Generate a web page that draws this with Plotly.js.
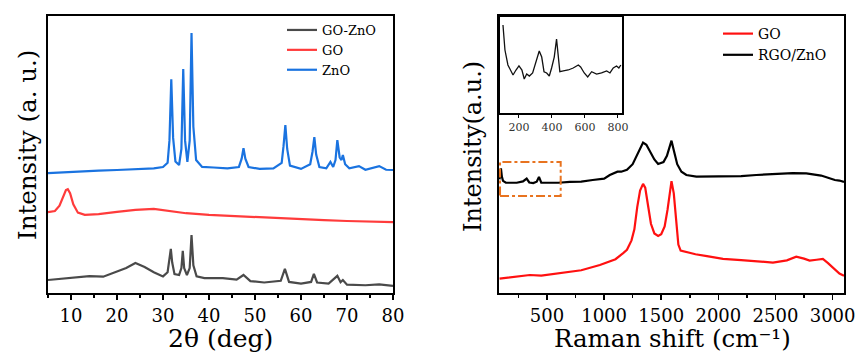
<!DOCTYPE html>
<html>
<head>
<meta charset="utf-8">
<script src="https://cdn.plot.ly/plotly-3.0.1.min.js"></script>
<style>html,body{margin:0;padding:0;background:#fff;}#chart{width:857px;height:355px;}</style>
</head>
<body>
<div id="chart"></div>
<script>
// ---------- XRD (left panel) ----------
const xrdZnO_x = [5, 8, 12, 16, 20, 24, 28, 30, 31.0, 31.4, 31.8, 32.2, 32.7, 33.5, 34.0, 34.4, 34.8, 35.3, 35.8, 36.2, 36.6, 37.2, 38.5, 41, 44, 46.5, 47.1, 47.5, 47.9, 48.6, 51, 54, 55.8, 56.2, 56.6, 57.0, 57.6, 60, 62.0, 62.5, 62.9, 63.3, 64, 65.5, 66.4, 67.0, 67.5, 67.9, 68.4, 68.8, 69.1, 69.6, 70.5, 72.6, 74, 77, 78.5, 80];
const xrdZnO_y = [43.3, 43.6, 43.8, 44.2, 44.4, 44.6, 45.0, 45.5, 47, 55, 77.2, 56, 47.5, 46.2, 52, 80.9, 55, 47.3, 55, 93.9, 60, 48, 45.5, 45.3, 45, 45.5, 48.5, 52.3, 48.5, 45.5, 44.8, 45, 47, 53, 60.6, 52, 46, 44.8, 46.5, 51, 56.3, 50, 45.5, 45, 47.3, 45.5, 48, 55.2, 49, 48, 49.8, 46.5, 45, 45.8, 44.5, 45.8, 44.5, 44.4];

const xrdGO_x = [5, 6.5, 7.5, 8.3, 8.9, 9.3, 9.8, 10.5, 11.5, 13, 16, 20, 24, 28, 31, 35, 40, 45, 50, 55, 60, 65, 70, 75, 80];
const xrdGO_y = [29.2, 29.6, 31.5, 35, 37.2, 37.5, 36, 32, 29, 28.2, 28.5, 29.3, 30, 30.4, 29.8, 28.8, 28.2, 27.8, 27.3, 27.0, 26.7, 26.3, 26.0, 25.8, 25.6];

const xrdGOZnO_x = [5, 8, 11, 14, 17, 20, 22, 24, 26, 28, 30, 31.0, 31.4, 31.7, 32.0, 32.5, 33.5, 34.0, 34.3, 34.6, 35.2, 35.8, 36.2, 36.6, 37.3, 39, 43, 46, 47.5, 49, 52, 55.6, 56.5, 57.4, 60, 62.2, 62.8, 63.5, 66, 67.9, 68.6, 69.1, 70, 74, 77, 80];
const xrdGOZnO_y = [4.7, 5.2, 5.5, 6.1, 5.9, 7.7, 9.0, 10.8, 9.4, 7.5, 6.0, 7.5, 12, 15.9, 11, 6.8, 6.5, 9, 15.2, 9, 6.5, 9, 20.9, 10, 6, 5.4, 5.4, 4.8, 6.5, 4.3, 3.8, 4.4, 8.7, 4.0, 3.4, 4.0, 6.9, 3.8, 3.4, 6.2, 3.9, 4.7, 3.0, 2.8, 3.1, 2.6];

// ---------- Raman (right panel) ----------
const ramRGO_x = [85, 97, 105, 115, 140, 180, 235, 290, 322, 345, 380, 410, 430, 450, 500, 600, 700, 800, 900, 1000, 1050, 1117, 1150, 1200, 1250, 1290, 1320, 1341, 1370, 1400, 1440, 1473, 1520, 1550, 1575, 1590, 1610, 1640, 1677, 1720, 1808, 2000, 2200, 2332, 2500, 2650, 2770, 2900, 2960, 3020, 3060, 3100];
const ramRGO_y = [41, 45, 42, 40.5, 39.8, 39.7, 39.8, 40.3, 41.3, 39.9, 39.7, 40.2, 41.9, 39.8, 39.8, 39.8, 40.1, 40.2, 40.8, 41.3, 42.6, 43.8, 43.8, 44.5, 46.5, 50, 53, 54.3, 53.5, 51.2, 48.2, 46.6, 47.3, 49.5, 52.8, 55, 51.5, 46.5, 43.8, 42.6, 42.0, 42.1, 42.2, 42.6, 43.0, 43.3, 43.2, 42.4, 41.6, 40.8, 40.6, 40.1];

const ramGO_x = [85, 200, 350, 450, 500, 600, 700, 800, 963, 1100, 1167, 1200, 1240, 1265, 1290, 1315, 1341, 1360, 1385, 1410, 1440, 1473, 1500, 1530, 1555, 1575, 1590, 1610, 1630, 1650, 1670, 1700, 1750, 1800, 1900, 2041, 2200, 2300, 2400, 2478, 2600, 2682, 2750, 2799, 2860, 2915, 2960, 3020, 3060, 3100];
const ramGO_y = [5.2, 5.8, 6.5, 6.3, 6.6, 7.2, 7.7, 8.2, 10.1, 12.2, 14.4, 15.6, 19, 23, 31, 37, 39.4, 38, 31.5, 25, 21.5, 20.6, 21.2, 24, 30, 37, 40.4, 36, 25, 17.5, 15.3, 15.0, 14.5, 14.0, 13.3, 12.3, 11.9, 11.6, 11.3, 11.0, 11.8, 13.1, 12.4, 11.7, 12.0, 12.3, 10.8, 8.5, 7.0, 6.2];

// inset (zoom of RGO/ZnO low-wavenumber region)
const insetX = [103, 115, 133, 152, 164, 182, 200, 218, 232, 247, 263, 283, 303, 323, 338, 352, 368, 384, 398, 414, 428, 438, 448, 469, 499, 529, 560, 574, 596, 617, 641, 671, 701, 732, 752, 772, 792, 806, 818];
const insetY = [91.7, 65.6, 50, 43, 39.6, 44.8, 49, 44.8, 35.4, 40.6, 38.5, 41.7, 53, 64.6, 58.3, 43, 41.7, 38.5, 46.9, 58.3, 77, 62.5, 43, 43.8, 44.8, 46.9, 50, 48, 41.7, 37.5, 43, 40.6, 41.7, 43.8, 41.7, 46.9, 49, 46.9, 50];

const xrdTicks = [10, 20, 30, 40, 50, 60, 70, 80];
const ramTicks = [500, 1000, 1500, 2000, 2500, 3000];
const insetTicks = [200, 400, 600, 800];

const serif = "DejaVu Serif";
const W = 857, H = 355;
const px = v => v / W, py = v => 1 - v / H;

const traces = [
  {x: xrdGOZnO_x, y: xrdGOZnO_y, name: 'GO-ZnO', type: 'scatter', mode: 'lines', line: {color: '#4a4a4a', width: 2.2}, xaxis: 'x', yaxis: 'y', legend: 'legend'},
  {x: xrdGO_x, y: xrdGO_y, name: 'GO', type: 'scatter', mode: 'lines', line: {color: '#ff3b3b', width: 2.2}, xaxis: 'x', yaxis: 'y', legend: 'legend'},
  {x: xrdZnO_x, y: xrdZnO_y, name: 'ZnO', type: 'scatter', mode: 'lines', line: {color: '#1a73e0', width: 2.2}, xaxis: 'x', yaxis: 'y', legend: 'legend'},
  {x: ramGO_x, y: ramGO_y, name: 'GO', type: 'scatter', mode: 'lines', line: {color: '#ff1010', width: 2.2}, xaxis: 'x2', yaxis: 'y2', legend: 'legend2'},
  {x: ramRGO_x, y: ramRGO_y, name: 'RGO/ZnO', type: 'scatter', mode: 'lines', line: {color: '#000000', width: 2.2}, xaxis: 'x2', yaxis: 'y2', legend: 'legend2'},
  {x: insetX, y: insetY, name: 'inset', type: 'scatter', mode: 'lines', line: {color: '#111111', width: 1.3}, xaxis: 'x3', yaxis: 'y3', showlegend: false}
];

const boxAxis = {showline: true, linecolor: '#000', linewidth: 2, mirror: true, zeroline: false, showgrid: false};

const layout = {
  width: W, height: H,
  margin: {l: 0, r: 0, t: 0, b: 0},
  paper_bgcolor: '#fff', plot_bgcolor: '#fff',
  font: {family: serif, color: '#000'},
  showlegend: true,
  xaxis: Object.assign({}, boxAxis, {domain: [px(48), px(393)], range: [5, 80], tickvals: xrdTicks, ticks: 'outside', ticklen: 5, tickwidth: 1.5, tickcolor: '#000', ticklabeloverflow: 'allow', tickfont: {family: serif, size: 18, color: '#000'}, minor: {dtick: 5, tick0: 5, ticks: 'outside', ticklen: 3, tickwidth: 1.5, tickcolor: '#000'}, anchor: 'y'}),
  yaxis: Object.assign({}, boxAxis, {domain: [py(293), py(16)], range: [0, 100], showticklabels: false, ticks: '', anchor: 'x'}),
  xaxis2: Object.assign({}, boxAxis, {domain: [px(499), px(844)], range: [80, 3100], tickvals: ramTicks, ticks: 'outside', ticklen: 5, tickwidth: 1.5, tickcolor: '#000', ticklabeloverflow: 'allow', tickfont: {family: serif, size: 18, color: '#000'}, minor: {dtick: 250, tick0: 0, ticks: 'outside', ticklen: 3, tickwidth: 1.5, tickcolor: '#000'}, anchor: 'y2'}),
  yaxis2: Object.assign({}, boxAxis, {domain: [py(293), py(16)], range: [0, 100], showticklabels: false, ticks: '', anchor: 'x2'}),
  xaxis3: {domain: [px(500), px(622)], range: [85, 825], showline: true, linecolor: '#000', linewidth: 1.5, mirror: true, zeroline: false, showgrid: false, tickvals: insetTicks, ticks: 'outside', ticklen: 3, tickwidth: 1, tickcolor: '#000', ticklabeloverflow: 'allow', tickfont: {family: serif, size: 11, color: '#333'}, anchor: 'y3'},
  yaxis3: {domain: [py(113), py(17)], range: [0, 100], showline: true, linecolor: '#000', linewidth: 1.5, mirror: true, zeroline: false, showgrid: false, showticklabels: false, ticks: '', anchor: 'x3'},
  legend: {x: px(282), y: py(15), xanchor: 'left', yanchor: 'top', bgcolor: 'rgba(0,0,0,0)', font: {family: serif, size: 13, color: '#000'}, traceorder: 'normal', tracegroupgap: 0, itemwidth: 30},
  legend2: {x: px(718), y: py(18), xanchor: 'left', yanchor: 'top', bgcolor: 'rgba(0,0,0,0)', font: {family: serif, size: 14, color: '#000'}, traceorder: 'normal', tracegroupgap: 0, itemwidth: 30},
  shapes: [
    {type: 'rect', xref: 'x2', yref: 'y2', x0: 89, x1: 620, y0: 35, y1: 47.3, line: {color: '#e8731f', width: 2, dash: 'dashdot'}}
  ],
  annotations: [
    {text: 'Intensity (a. u.)', x: px(27), y: py(145), xref: 'paper', yref: 'paper', xanchor: 'center', yanchor: 'middle', textangle: -90, showarrow: false, font: {family: serif, size: 24.5, color: '#000'}},
    {text: '2θ (deg)', x: px(220), y: 0, xref: 'paper', yref: 'paper', xanchor: 'center', yanchor: 'bottom', showarrow: false, font: {family: serif, size: 25, color: '#000'}},
    {text: 'Intensity(a.u.)', x: px(473), y: py(147), xref: 'paper', yref: 'paper', xanchor: 'center', yanchor: 'middle', textangle: -90, showarrow: false, font: {family: serif, size: 24, color: '#000'}},
    {text: 'Raman shift (cm⁻¹)', x: px(672), y: 0, xref: 'paper', yref: 'paper', xanchor: 'center', yanchor: 'bottom', showarrow: false, font: {family: serif, size: 24.5, color: '#000'}}
  ]
};

Plotly.newPlot('chart', traces, layout, {staticPlot: true, displayModeBar: false});
</script>
</body>
</html>
